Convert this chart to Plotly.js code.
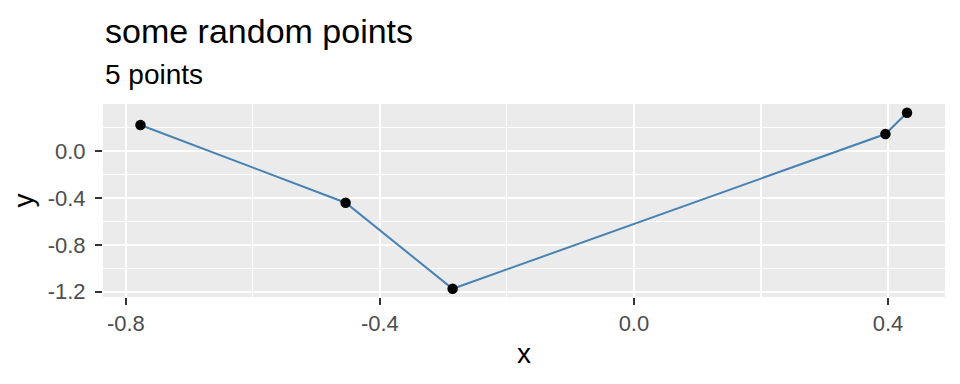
<!DOCTYPE html>
<html>
<head>
<meta charset="utf-8">
<script src="https://cdn.plot.ly/plotly-3.0.1.min.js"></script>
<style>html,body{margin:0;padding:0;background:#fff}#chart{width:960px;height:384px}</style>
</head>
<body>
<div id="chart"></div>
<script>
const xValues = [-0.777, -0.454, -0.2855, 0.396, 0.430];
const yValues = [0.222, -0.441, -1.175, 0.145, 0.327];
const xTicks = [-0.8, -0.4, 0.0, 0.4];
const xTickLabels = ["-0.8", "-0.4", "0.0", "0.4"];
const yTicks = [0.0, -0.4, -0.8, -1.2];
const yTickLabels = ["0.0", "-0.4", "-0.8", "-1.2"];
const titleText = "some random points";
const subtitleText = "5 points";

const font = "Liberation Sans, Arial, sans-serif";
const plotTop = 104, plotBottom = 297;
const py = px => (plotBottom - px) / (plotBottom - plotTop);

const traces = [
  {x: xValues, y: yValues, type: "scatter", mode: "lines",
   line: {color: "#4682B4", width: 2}, hoverinfo: "skip", showlegend: false},
  {x: xValues, y: yValues, type: "scatter", mode: "markers",
   marker: {color: "#000000", size: 10.5}, showlegend: false}
];

const axisCommon = {
  showline: false, zeroline: false,
  gridcolor: "#FFFFFF", gridwidth: 2.2,
  ticks: "outside", ticklen: 7, tickwidth: 2, tickcolor: "#333333",
  tickfont: {family: font, size: 22, color: "#4D4D4D"},
  minor: {showgrid: true, gridcolor: "#FFFFFF", gridwidth: 1.1, ticks: ""}
};

const layout = {
  width: 960, height: 384,
  paper_bgcolor: "#FFFFFF", plot_bgcolor: "#EBEBEB",
  margin: {l: 103, r: 15, t: plotTop, b: 384 - plotBottom},
  annotations: [
    {text: titleText, xref: "paper", yref: "paper", x: 0, y: py(31),
     xanchor: "left", yanchor: "middle", showarrow: false,
     font: {family: font, size: 34, color: "#000000"}},
    {text: subtitleText, xref: "paper", yref: "paper", x: 0, y: py(75),
     xanchor: "left", yanchor: "middle", showarrow: false,
     font: {family: font, size: 28, color: "#000000"}}
  ],
  xaxis: Object.assign({}, axisCommon, {
    range: [-0.836, 0.4898], tickvals: xTicks, ticktext: xTickLabels,
    ticklabelstandoff: 0,
    minor: Object.assign({}, axisCommon.minor, {dtick: 0.2, tick0: 0}),
    title: {text: "x", font: {family: font, size: 28, color: "#000000"}, standoff: 7}
  }),
  yaxis: Object.assign({}, axisCommon, {
    range: [-1.245, 0.401], tickvals: yTicks, ticktext: yTickLabels,
    ticklabelstandoff: 5,
    minor: Object.assign({}, axisCommon.minor, {dtick: 0.2, tick0: 0}),
    title: {text: "y", font: {family: font, size: 28, color: "#000000"}, standoff: 5}
  })
};

Plotly.newPlot("chart", traces, layout, {staticPlot: true, displayModeBar: false});
</script>
</body>
</html>
